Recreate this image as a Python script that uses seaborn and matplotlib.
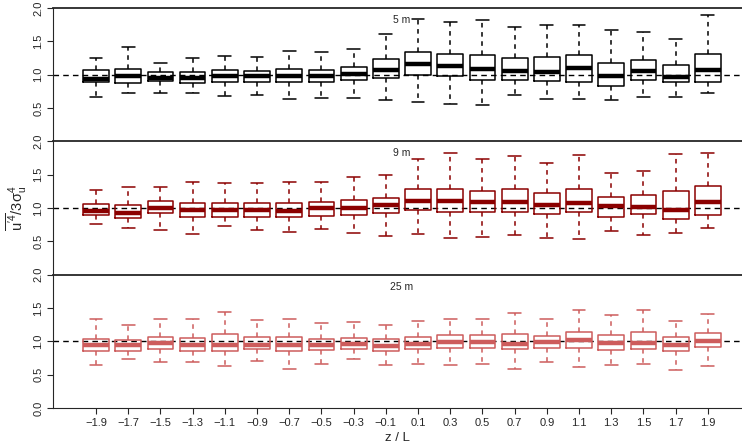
import numpy as np
import pandas as pd
import matplotlib
matplotlib.use("Agg")
import matplotlib.pyplot as plt
import seaborn as sns

# z/L classes
zl = [-1.9, -1.7, -1.5, -1.3, -1.1, -0.9, -0.7, -0.5, -0.3, -0.1,
      0.1, 0.3, 0.5, 0.7, 0.9, 1.1, 1.3, 1.5, 1.7, 1.9]
zl_labels = [f"{v:.1f}".replace("-", "\u2212") for v in zl]

# 5 m  (whisker low, Q1, median, Q3, whisker high)
h5_lo = [0.66, 0.72, 0.73, 0.72, 0.68, 0.70, 0.63, 0.65, 0.65, 0.62, 0.59, 0.56, 0.545, 0.69, 0.64, 0.64, 0.62, 0.67, 0.67, 0.73]
h5_q1 = [0.884, 0.88, 0.90, 0.88, 0.89, 0.89, 0.89, 0.89, 0.92, 0.955, 1.0, 0.975, 0.92, 0.92, 0.91, 0.89, 0.83, 0.92, 0.89, 0.89]
h5_med = [0.934, 0.985, 0.955, 0.95, 0.975, 0.975, 0.975, 0.975, 1.01, 1.066, 1.16, 1.126, 1.09, 1.06, 1.045, 1.10, 0.985, 1.05, 0.97, 1.066]
h5_q3 = [1.066, 1.09, 1.04, 1.045, 1.07, 1.05, 1.086, 1.076, 1.11, 1.23, 1.34, 1.31, 1.29, 1.25, 1.26, 1.30, 1.18, 1.22, 1.15, 1.31]
h5_hi = [1.25, 1.41, 1.18, 1.25, 1.28, 1.26, 1.35, 1.34, 1.39, 1.61, 1.84, 1.79, 1.82, 1.72, 1.75, 1.74, 1.67, 1.64, 1.53, 1.90]

# 9 m
h9_lo = [0.76, 0.70, 0.67, 0.61, 0.73, 0.67, 0.64, 0.68, 0.62, 0.58, 0.61, 0.555, 0.565, 0.59, 0.545, 0.53, 0.66, 0.59, 0.63, 0.70]
h9_q1 = [0.89, 0.85, 0.92, 0.87, 0.87, 0.87, 0.86, 0.88, 0.89, 0.93, 0.965, 0.94, 0.94, 0.935, 0.915, 0.94, 0.86, 0.915, 0.84, 0.89]
h9_med = [0.955, 0.93, 1.005, 0.97, 0.97, 0.965, 0.955, 0.995, 0.995, 1.04, 1.10, 1.11, 1.096, 1.086, 1.04, 1.076, 1.025, 1.02, 0.975, 1.086]
h9_q3 = [1.056, 1.045, 1.10, 1.076, 1.076, 1.076, 1.08, 1.096, 1.12, 1.157, 1.28, 1.29, 1.26, 1.28, 1.23, 1.29, 1.167, 1.197, 1.25, 1.33]
h9_hi = [1.27, 1.32, 1.32, 1.39, 1.38, 1.37, 1.39, 1.39, 1.46, 1.50, 1.73, 1.82, 1.74, 1.78, 1.68, 1.80, 1.525, 1.555, 1.81, 1.83]

# 25 m
h25_lo = [0.64, 0.74, 0.69, 0.69, 0.625, 0.70, 0.585, 0.66, 0.73, 0.64, 0.655, 0.645, 0.665, 0.58, 0.69, 0.62, 0.65, 0.655, 0.57, 0.63]
h25_q1 = [0.85, 0.86, 0.88, 0.86, 0.86, 0.88, 0.86, 0.87, 0.88, 0.86, 0.88, 0.90, 0.895, 0.88, 0.90, 0.90, 0.875, 0.88, 0.85, 0.91]
h25_med = [0.94, 0.945, 0.97, 0.945, 0.945, 0.95, 0.94, 0.94, 0.955, 0.935, 0.96, 0.99, 0.99, 0.965, 0.99, 1.015, 0.975, 0.98, 0.95, 1.005]
h25_q3 = [1.04, 1.025, 1.07, 1.056, 1.11, 1.06, 1.066, 1.035, 1.05, 1.03, 1.06, 1.09, 1.096, 1.11, 1.076, 1.14, 1.09, 1.14, 1.066, 1.127]
h25_hi = [1.34, 1.25, 1.33, 1.34, 1.44, 1.32, 1.34, 1.27, 1.29, 1.25, 1.30, 1.33, 1.33, 1.43, 1.33, 1.47, 1.39, 1.47, 1.31, 1.41]

heights = ["5 m", "9 m", "25 m"]
colors = ["black", "#8B0000", "#CD5C5C"]
stats = {
    "5 m": (h5_lo, h5_q1, h5_med, h5_q3, h5_hi),
    "9 m": (h9_lo, h9_q1, h9_med, h9_q3, h9_hi),
    "25 m": (h25_lo, h25_q1, h25_med, h25_q3, h25_hi),
}

# five points per box -> quartiles / extremes reproduce the stats exactly
rows = []
for h in heights:
    for i, lab in enumerate(zl_labels):
        for arr in stats[h]:
            rows.append({"height": h, "zL": lab, "ratio": arr[i]})
df = pd.DataFrame(rows)

sns.set_style("ticks")
plt.rcParams["font.family"] = ["Liberation Sans", "DejaVu Sans"]
plt.rcParams["mathtext.default"] = "regular"

fig = plt.figure(figsize=(7.42, 4.46), dpi=100)
gs = fig.add_gridspec(3, 1, left=53 / 742, right=1.0, top=1 - 8 / 446,
                      bottom=1 - 408 / 446, hspace=0)

for k, (h, c) in enumerate(zip(heights, colors)):
    ax = fig.add_subplot(gs[k])
    ax.axhline(1.0, color="black", ls=(0, (4, 3)), lw=1.0, zorder=0.5)
    sns.boxplot(data=df[df["height"] == h], x="zL", y="ratio", order=zl_labels,
                ax=ax, whis=(0, 100), fill=False, color=c, width=0.8,
                linewidth=1.1, showfliers=False,
                medianprops={"linewidth": 3.2, "color": c},
                whiskerprops={"linestyle": (0, (3, 3)), "color": c},
                capprops={"color": c})
    ax.text(9.5, 1.82, h, ha="center", va="center", fontsize=7.5)
    ax.set_xlim(-1.335, 20.06)
    ax.set_ylim(0, 2)
    ax.set_xlabel("")
    ax.set_ylabel("")
    ax.spines["right"].set_visible(False)
    ax.spines["top"].set_linewidth(1.3)
    ax.spines["left"].set_linewidth(0.8)
    if k < 2:
        ax.spines["bottom"].set_visible(False)
        ax.set_yticks([0.5, 1.0, 1.5, 2.0])
        ax.tick_params(axis="x", bottom=False, labelbottom=False)
    else:
        ax.spines["bottom"].set_linewidth(0.8)
        ax.set_yticks([0.0, 0.5, 1.0, 1.5, 2.0])
        ax.tick_params(axis="x", length=4, width=0.8, labelsize=8, pad=3)
        ax.set_xlabel("z / L", fontsize=9.5, labelpad=3)
    ax.set_yticklabels([f"{t:.1f}" for t in ax.get_yticks()])
    ax.tick_params(axis="y", length=4, width=0.8, labelsize=8, pad=3)
    for lbl in ax.get_yticklabels():
        lbl.set_rotation(90)
        lbl.set_va("center")
    if k == 1:
        ax.set_ylabel(r"$\overline{u'^4}/3\sigma^4_u$", fontsize=10.5, labelpad=3)

fig.savefig("out.png", dpi=100)
